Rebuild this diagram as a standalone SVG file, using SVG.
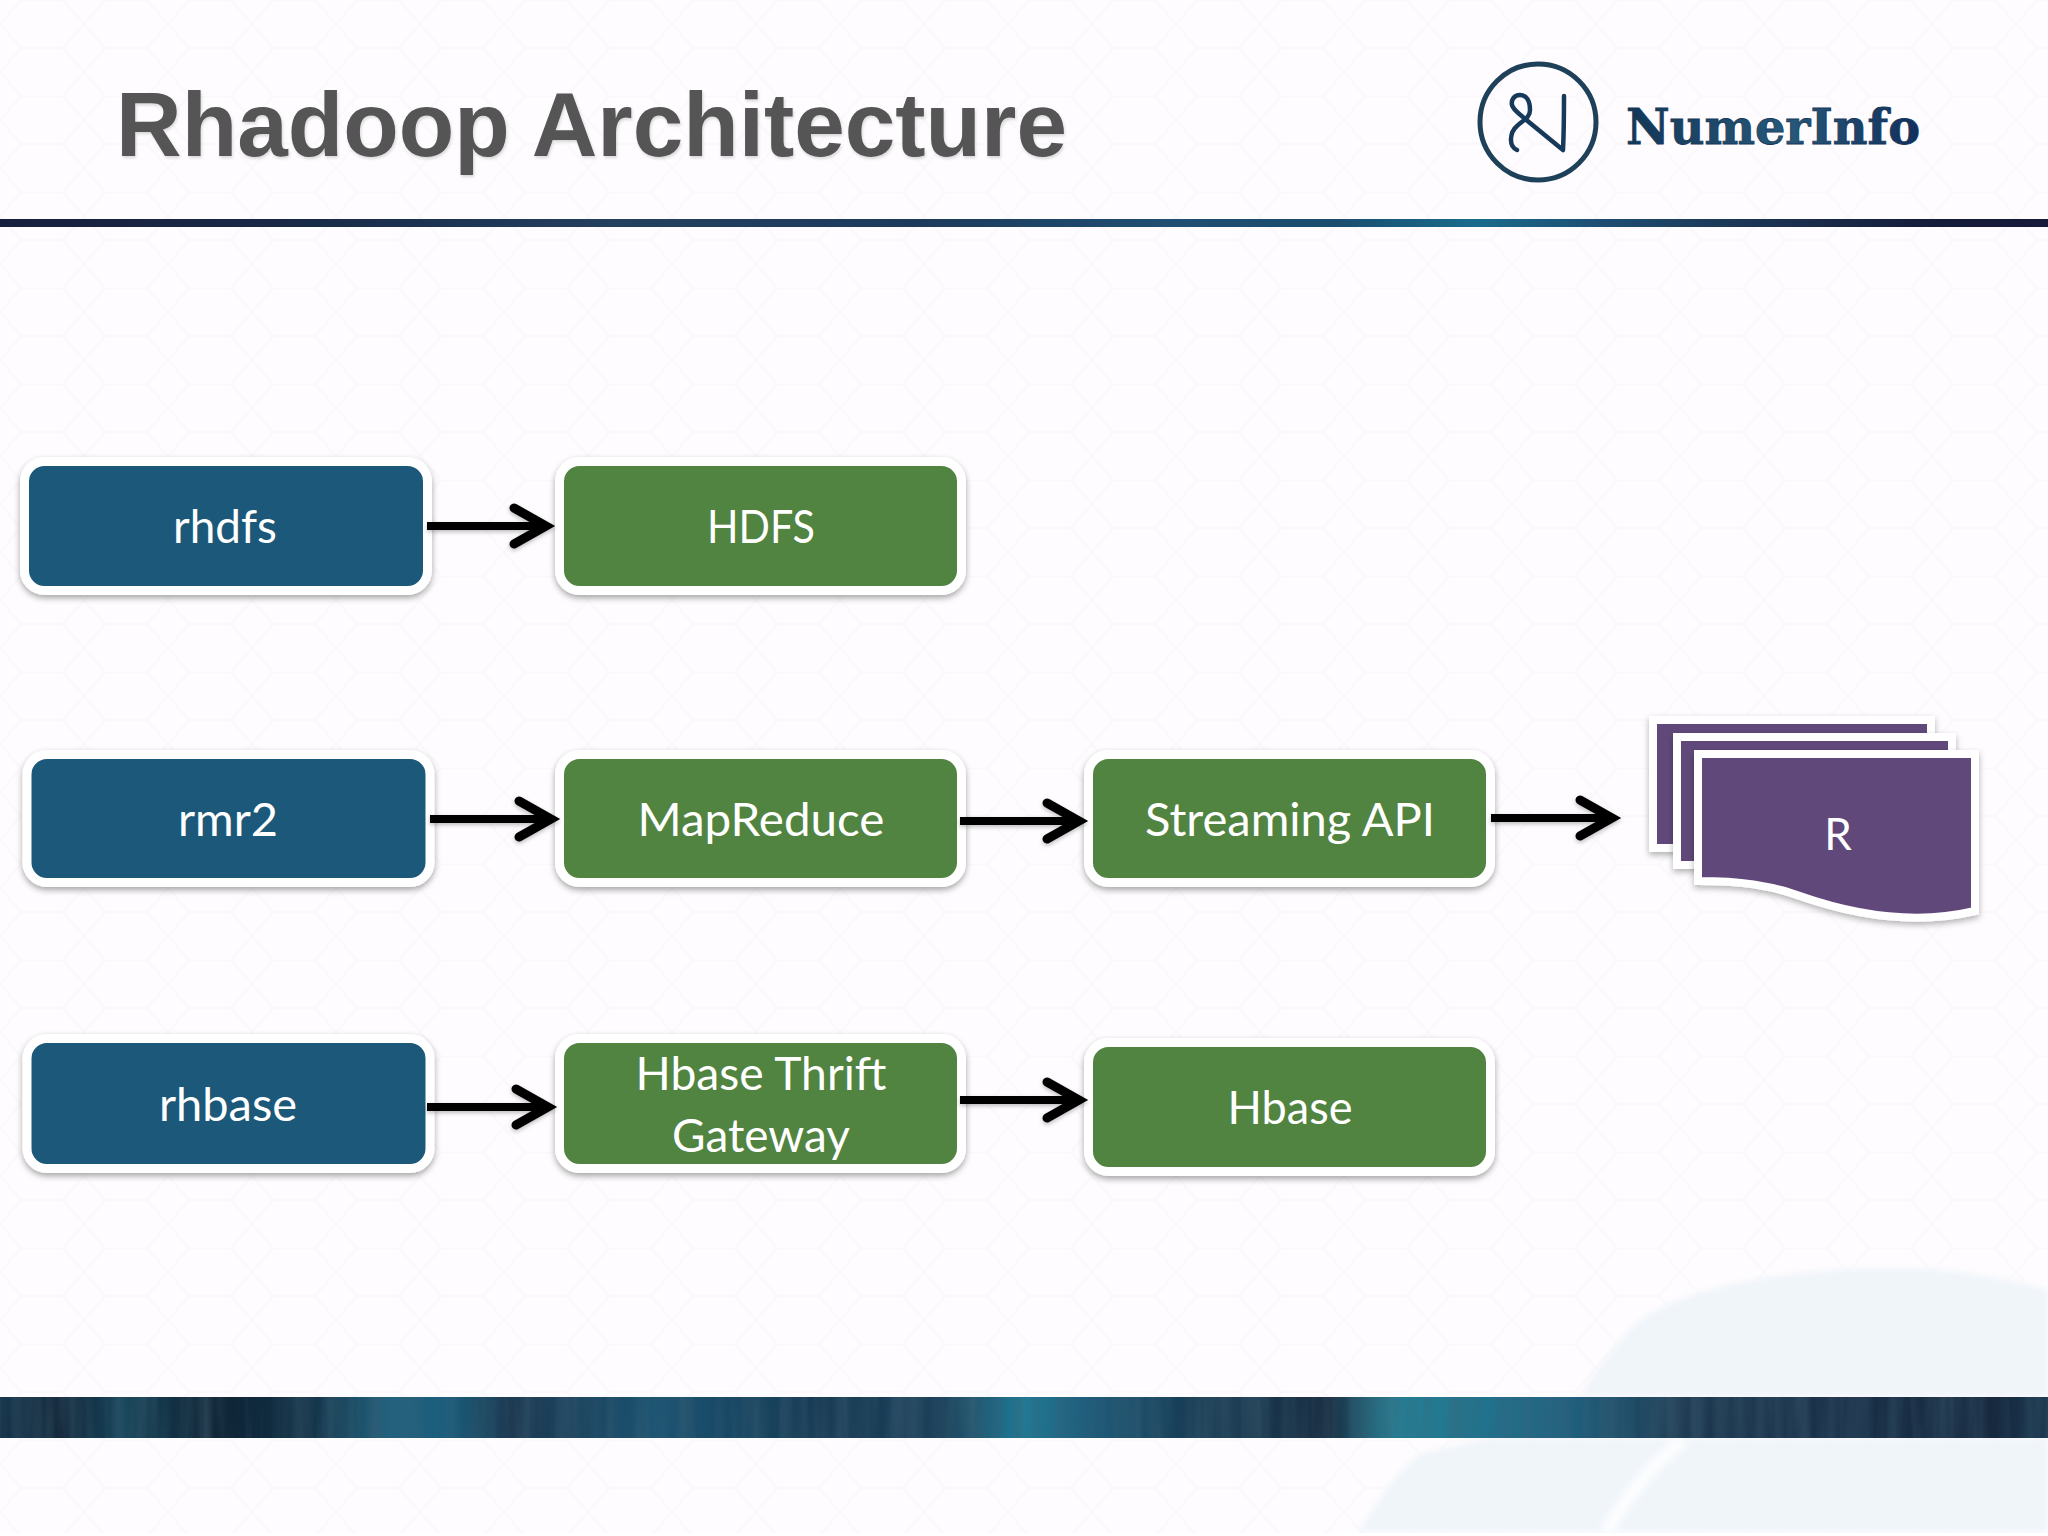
<svg xmlns="http://www.w3.org/2000/svg" width="2048" height="1536" viewBox="0 0 2048 1536">
<style>
.box{stroke:#fff;stroke-width:9;filter:url(#sh)}
.blue{fill:#1c5879}
.green{fill:#518440}
.doc{fill:#61487a;stroke:#fff;stroke-width:8;filter:url(#sh2)}
.lbl{font-family:Lato,"Open Sans",sans-serif;font-size:47px;fill:#fff;text-anchor:middle}
.ar{stroke:#000;stroke-width:8;fill:none;stroke-linecap:butt}
.hd{stroke:#000;stroke-width:9;fill:none;stroke-linecap:round;stroke-linejoin:miter}
</style>
<defs>
<filter id="sh" x="-10%" y="-15%" width="120%" height="135%"><feDropShadow dx="0" dy="3" stdDeviation="3" flood-color="#000" flood-opacity="0.35"/></filter>
<filter id="sh2" x="-10%" y="-15%" width="120%" height="135%"><feDropShadow dx="0" dy="3" stdDeviation="3" flood-color="#000" flood-opacity="0.3"/></filter>
<filter id="arsh" x="-10%" y="-40%" width="120%" height="200%"><feDropShadow dx="0" dy="2" stdDeviation="2" flood-color="#000" flood-opacity="0.25"/></filter>
<filter id="blur" x="-10%" y="-10%" width="120%" height="120%"><feGaussianBlur stdDeviation="3"/></filter>
<filter id="tsh" x="-5%" y="-10%" width="110%" height="130%"><feDropShadow dx="1" dy="2" stdDeviation="1.5" flood-color="#000" flood-opacity="0.15"/></filter>
<filter id="streak" x="0" y="0" width="100%" height="100%">
<feTurbulence type="fractalNoise" baseFrequency="0.06 0.004" numOctaves="3" seed="4"/>
<feColorMatrix type="matrix" values="0 0 0 0 0.05  0 0 0 0 0.12  0 0 0 0 0.18  1.6 0 0 0 -0.45"/>
</filter>
<pattern id="hex" width="84" height="96" patternUnits="userSpaceOnUse">
<path d="M21 0L63 0L84 24L63 48L21 48L0 24ZM21 48L0 72L21 96M63 48L84 72L63 96" fill="none" stroke="#f6f2f8" stroke-width="2"/>
</pattern>
<linearGradient id="top" x1="0" x2="1" y1="0" y2="0">
<stop offset="0" stop-color="#171f3d"/><stop offset=".15" stop-color="#182a48"/><stop offset=".3" stop-color="#24405f"/><stop offset=".45" stop-color="#1c3a5c"/><stop offset=".57" stop-color="#1f4f72"/><stop offset=".65" stop-color="#1a4c6e"/><stop offset=".72" stop-color="#1a6c8c"/><stop offset=".78" stop-color="#1d4f73"/><stop offset=".85" stop-color="#1c3655"/><stop offset=".94" stop-color="#141d3a"/><stop offset="1" stop-color="#171a38"/>
</linearGradient>
<linearGradient id="bot" x1="0" x2="1" y1="0" y2="0">
<stop offset="0" stop-color="#14324a"/><stop offset=".03" stop-color="#0f2133"/><stop offset=".06" stop-color="#18465c"/><stop offset=".1" stop-color="#0e2233"/><stop offset=".15" stop-color="#123045"/><stop offset=".19" stop-color="#20627f"/><stop offset=".22" stop-color="#1a5d7c"/><stop offset=".25" stop-color="#17324a"/><stop offset=".32" stop-color="#1a5473"/><stop offset=".4" stop-color="#173a53"/><stop offset=".46" stop-color="#1a3e58"/><stop offset=".5" stop-color="#1e7d98"/><stop offset=".53" stop-color="#1b5d7d"/><stop offset=".58" stop-color="#173c55"/><stop offset=".65" stop-color="#1a2e42"/><stop offset=".68" stop-color="#20879c"/><stop offset=".76" stop-color="#1d6585"/><stop offset=".82" stop-color="#1c3850"/><stop offset=".9" stop-color="#1a3048"/><stop offset=".97" stop-color="#16283e"/><stop offset="1" stop-color="#18344b"/>
</linearGradient>
<linearGradient id="logo" x1="0" x2="1" y1="0" y2="0">
<stop offset="0" stop-color="#123657"/><stop offset=".55" stop-color="#27587a"/><stop offset="1" stop-color="#122f5b"/>
</linearGradient>
</defs>

<g id="background">
<rect width="2048" height="1536" fill="#fefcfe"/>
<rect width="2048" height="1536" fill="url(#hex)" opacity=".4"/>
<path d="M1580 1397C1600 1360 1615 1350 1625 1335C1660 1290 1780 1268 1893 1268C1960 1268 2010 1280 2048 1290V1397Z" fill="#f0f5fa" filter="url(#blur)"/>
<path d="M1358 1532C1380 1500 1400 1465 1423 1453L1488 1438H2048V1532Z" fill="#f0f5fa" filter="url(#blur)"/>
<path d="M1606 1532C1625 1500 1650 1465 1684 1440" fill="none" stroke="#fbfdfe" stroke-width="14" filter="url(#blur)"/>
<rect x="0" y="1533" width="2048" height="3" fill="#fff"/>
<rect x="0" y="219" width="2048" height="8" fill="url(#top)"/>
<rect x="0" y="1397" width="2048" height="41" fill="url(#bot)"/>
<rect x="0" y="1397" width="2048" height="41" filter="url(#streak)" opacity=".55"/>
</g>

<g id="title">
<text x="116" y="156" font-family="Liberation Sans, Arial, sans-serif" font-size="90" font-weight="700" fill="#545454" filter="url(#tsh)" textLength="951" lengthAdjust="spacingAndGlyphs">Rhadoop Architecture</text>
</g>

<g id="logo-mark">
<ellipse cx="1538" cy="122" rx="58" ry="58" fill="none" stroke="#1e4059" stroke-width="5"/>
<path d="M1517 150C1508 146 1510 132 1517 126C1523 120 1530 118 1530 110C1530 100 1526 95 1520 95C1514 95 1511 100 1512 105C1514 111 1519 113 1524 118L1563 150C1564 130 1564 112 1564 96" fill="none" stroke="#17395a" stroke-width="4.5" stroke-linecap="round" stroke-linejoin="round"/>
<text x="1626" y="144" font-family="DejaVu Serif, serif" font-size="48" font-weight="700" fill="url(#logo)" stroke="#17395a" stroke-width=".8" textLength="294" lengthAdjust="spacingAndGlyphs">NumerInfo</text>
</g>

<g id="rhdfs"><rect class="box blue" x="24.500" y="461.500" width="403" height="129" rx="20"/><text class="lbl" x="225" y="543" textLength="104" lengthAdjust="spacingAndGlyphs">rhdfs</text></g>
<g id="hdfs"><rect class="box green" x="559.500" y="461.500" width="402" height="129" rx="20"/><text class="lbl" x="761" y="543" textLength="108" lengthAdjust="spacingAndGlyphs">HDFS</text></g>
<g id="rmr2"><rect class="box blue" x="27" y="754.500" width="403" height="128" rx="20"/><text class="lbl" x="228" y="836" textLength="100" lengthAdjust="spacingAndGlyphs">rmr2</text></g>
<g id="mapreduce"><rect class="box green" x="559.500" y="754.500" width="402" height="128" rx="20"/><text class="lbl" x="761" y="836" textLength="247" lengthAdjust="spacingAndGlyphs">MapReduce</text></g>
<g id="streaming-api"><rect class="box green" x="1088.500" y="754.500" width="402" height="128" rx="20"/><text class="lbl" x="1290" y="836" textLength="290" lengthAdjust="spacingAndGlyphs">Streaming API</text></g>
<g id="rhbase"><rect class="box blue" x="27" y="1038.500" width="403" height="130" rx="20"/><text class="lbl" x="228" y="1121" textLength="138" lengthAdjust="spacingAndGlyphs">rhbase</text></g>
<g id="hbase-thrift-gateway"><rect class="box green" x="559.500" y="1038.500" width="402" height="130" rx="20"/><text class="lbl" x="761" y="1090" textLength="251" lengthAdjust="spacingAndGlyphs">Hbase Thrift</text><text class="lbl" x="761" y="1152" textLength="178" lengthAdjust="spacingAndGlyphs">Gateway</text></g>
<g id="hbase"><rect class="box green" x="1088.500" y="1042.500" width="402" height="129" rx="20"/><text class="lbl" x="1290" y="1124" textLength="125" lengthAdjust="spacingAndGlyphs">Hbase</text></g>

<g id="r">
<path class="doc" d="M1653 720H1931V848H1653Z"/>
<path class="doc" d="M1677 737H1952V865H1677Z"/>
<path class="doc" d="M1698 754H1975V911C1920 924 1860 917 1800 896C1770 885 1740 881 1698 881Z"/>
<text class="lbl" x="1838" y="850" style="font-size:44px">R</text>
</g>

<g id="connectors">
<g filter="url(#arsh)">
<path class="ar" d="M427 526H542"/><path class="hd" d="M514 508L546 526L514 544"/>
<path class="ar" d="M430 819H547"/><path class="hd" d="M519 801L551 819L519 837"/>
<path class="ar" d="M960 821H1075"/><path class="hd" d="M1047 803L1079 821L1047 839"/>
<path class="ar" d="M1491 818H1608"/><path class="hd" d="M1580 800L1612 818L1580 836"/>
<path class="ar" d="M427 1107H544"/><path class="hd" d="M516 1089L548 1107L516 1125"/>
<path class="ar" d="M960 1100H1075"/><path class="hd" d="M1047 1082L1079 1100L1047 1118"/>
</g>
</g>
</svg>
